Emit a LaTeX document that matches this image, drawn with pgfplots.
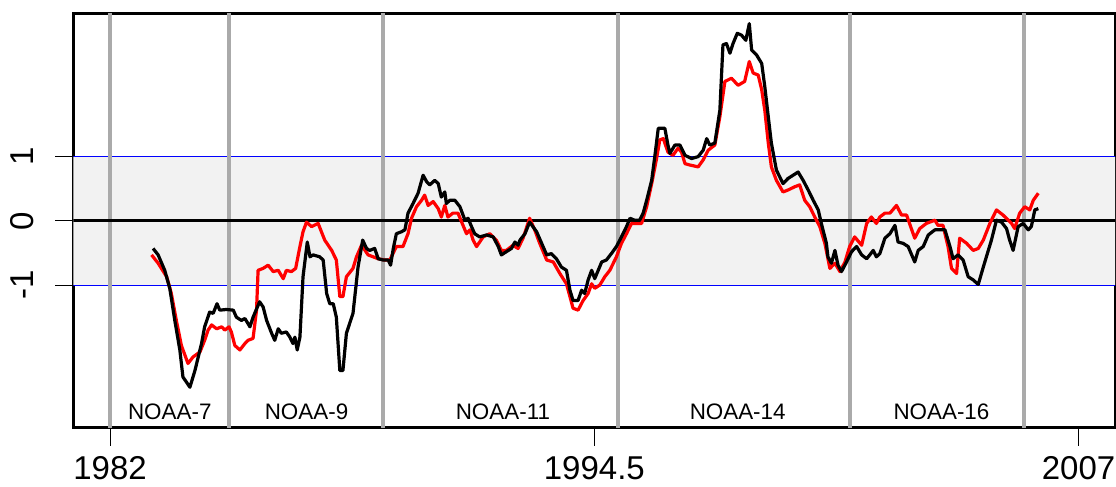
\documentclass[border=0pt]{standalone}
\usepackage{fontspec}
\setmainfont{Liberation Sans}
\usepackage{pgfplots}
\usepackage{pgfplotstable}
\pgfplotsset{compat=1.18}
\definecolor{bandgray}{RGB}{242,242,242}
\definecolor{satgray}{RGB}{170,170,170}

% anomaly series, red
\pgfplotstableread{
year val
1983.07 -0.53
1983.24 -0.66
1983.46 -0.87
1983.58 -1.13
1983.71 -1.55
1983.84 -1.94
1984.01 -2.22
1984.14 -2.12
1984.32 -2.04
1984.44 -1.86
1984.53 -1.70
1984.62 -1.62
1984.75 -1.68
1984.88 -1.65
1984.96 -1.70
1985.07 -1.65
1985.13 -1.73
1985.22 -1.94
1985.35 -2.01
1985.48 -1.91
1985.56 -1.86
1985.69 -1.83
1985.78 -1.39
1985.82 -0.77
1985.95 -0.74
1986.08 -0.69
1986.21 -0.79
1986.34 -0.77
1986.47 -0.90
1986.55 -0.77
1986.68 -0.79
1986.79 -0.74
1986.90 -0.40
1986.98 -0.17
1987.07 -0.02
1987.20 -0.09
1987.37 -0.04
1987.54 -0.30
1987.72 -0.46
1987.84 -0.61
1987.93 -1.18
1988.01 -1.18
1988.10 -0.87
1988.27 -0.74
1988.36 -0.56
1988.49 -0.38
1988.66 -0.53
1988.79 -0.56
1988.92 -0.59
1989.09 -0.61
1989.22 -0.61
1989.39 -0.40
1989.56 -0.40
1989.69 -0.20
1989.78 0.04
1989.91 0.22
1990.04 0.32
1990.12 0.40
1990.21 0.24
1990.34 0.30
1990.47 0.19
1990.55 0.06
1990.64 0.24
1990.72 0.06
1990.85 0.12
1990.98 0.12
1991.11 -0.07
1991.20 -0.20
1991.29 -0.14
1991.37 -0.30
1991.46 -0.40
1991.63 -0.25
1991.80 -0.20
1991.97 -0.30
1992.10 -0.46
1992.23 -0.46
1992.40 -0.38
1992.53 -0.43
1992.66 -0.27
1992.83 0.04
1992.96 -0.14
1993.09 -0.35
1993.27 -0.61
1993.44 -0.64
1993.61 -0.82
1993.78 -0.98
1993.87 -1.18
1993.95 -1.36
1994.08 -1.39
1994.21 -1.24
1994.34 -1.13
1994.43 -0.98
1994.51 -1.05
1994.64 -1.00
1994.77 -0.87
1994.90 -0.77
1995.07 -0.56
1995.20 -0.35
1995.33 -0.20
1995.46 -0.04
1995.59 -0.04
1995.72 -0.04
1995.85 0.22
1995.98 0.58
1996.10 0.95
1996.19 1.26
1996.28 1.28
1996.40 1.07
1996.53 1.02
1996.66 1.13
1996.75 1.07
1996.84 0.89
1996.96 0.87
1997.18 0.84
1997.31 0.95
1997.44 1.10
1997.61 1.18
1997.74 1.62
1997.87 2.17
1998.04 2.22
1998.21 2.11
1998.38 2.17
1998.50 2.48
1998.60 2.30
1998.73 2.27
1998.82 2.04
1998.90 1.72
1998.99 1.21
1999.07 0.84
1999.20 0.63
1999.37 0.45
1999.50 0.48
1999.67 0.53
1999.80 0.56
1999.93 0.32
2000.06 0.22
2000.19 0.06
2000.32 -0.09
2000.45 -0.35
2000.58 -0.74
2000.71 -0.66
2000.84 -0.79
2000.97 -0.64
2001.09 -0.40
2001.22 -0.25
2001.40 -0.38
2001.53 -0.04
2001.65 0.06
2001.78 -0.04
2001.87 0.06
2002.00 0.12
2002.13 0.12
2002.30 0.24
2002.43 0.09
2002.56 0.09
2002.77 -0.27
2002.90 -0.12
2003.07 -0.04
2003.29 0.01
2003.37 -0.07
2003.50 -0.07
2003.63 -0.40
2003.72 -0.74
2003.85 -0.82
2003.93 -0.27
2004.11 -0.35
2004.28 -0.46
2004.41 -0.43
2004.54 -0.30
2004.71 -0.04
2004.88 0.17
2005.05 0.09
2005.27 -0.04
2005.35 -0.12
2005.48 0.12
2005.61 0.22
2005.74 0.17
2005.83 0.32
2005.96 0.43
}\redseries

% anomaly series, black
\pgfplotstableread{
year val
1983.11 -0.43
1983.24 -0.53
1983.41 -0.77
1983.54 -1.05
1983.67 -1.55
1983.80 -2.01
1983.88 -2.43
1984.06 -2.59
1984.19 -2.33
1984.36 -1.91
1984.44 -1.65
1984.57 -1.42
1984.66 -1.44
1984.76 -1.29
1984.83 -1.39
1985.00 -1.38
1985.18 -1.39
1985.26 -1.50
1985.39 -1.55
1985.48 -1.52
1985.61 -1.65
1985.69 -1.50
1985.86 -1.26
1985.95 -1.34
1986.04 -1.55
1986.17 -1.75
1986.25 -1.86
1986.34 -1.68
1986.42 -1.75
1986.55 -1.73
1986.64 -1.81
1986.72 -1.91
1986.77 -1.81
1986.83 -2.01
1986.90 -1.81
1986.98 -0.87
1987.09 -0.33
1987.16 -0.56
1987.24 -0.53
1987.41 -0.56
1987.50 -0.61
1987.59 -1.13
1987.67 -1.29
1987.76 -1.29
1987.84 -1.50
1987.93 -2.33
1988.01 -2.33
1988.10 -1.75
1988.27 -1.44
1988.40 -0.72
1988.52 -0.30
1988.62 -0.43
1988.70 -0.46
1988.83 -0.43
1988.92 -0.59
1989.05 -0.61
1989.18 -0.61
1989.24 -0.69
1989.31 -0.43
1989.39 -0.20
1989.52 -0.17
1989.61 -0.14
1989.69 0.12
1989.82 0.27
1989.95 0.43
1990.08 0.71
1990.17 0.61
1990.25 0.56
1990.38 0.63
1990.47 0.58
1990.55 0.37
1990.64 0.45
1990.68 0.27
1990.77 0.32
1990.90 0.32
1991.03 0.22
1991.16 0.01
1991.24 0.04
1991.33 -0.09
1991.41 -0.20
1991.54 -0.25
1991.72 -0.22
1991.89 -0.25
1992.02 -0.40
1992.10 -0.53
1992.23 -0.48
1992.36 -0.43
1992.45 -0.33
1992.53 -0.38
1992.58 -0.30
1992.71 -0.20
1992.83 -0.02
1993.01 -0.17
1993.14 -0.35
1993.27 -0.53
1993.39 -0.51
1993.52 -0.59
1993.65 -0.72
1993.78 -0.77
1993.87 -1.08
1993.95 -1.24
1994.08 -1.24
1994.17 -1.08
1994.25 -1.13
1994.34 -0.92
1994.43 -0.77
1994.51 -0.90
1994.60 -0.77
1994.69 -0.64
1994.81 -0.61
1994.94 -0.51
1995.07 -0.40
1995.20 -0.25
1995.33 -0.09
1995.42 0.04
1995.54 0.01
1995.67 0.01
1995.76 0.12
1995.85 0.32
1995.98 0.63
1996.06 1.00
1996.15 1.44
1996.23 1.44
1996.32 1.44
1996.40 1.18
1996.45 1.05
1996.58 1.18
1996.71 1.18
1996.84 1.02
1997.01 0.97
1997.18 1.00
1997.31 1.10
1997.40 1.28
1997.48 1.18
1997.61 1.21
1997.74 1.72
1997.82 2.74
1997.91 2.76
1998.00 2.61
1998.08 2.76
1998.19 2.92
1998.30 2.89
1998.41 2.81
1998.50 3.07
1998.56 2.66
1998.69 2.58
1998.82 2.45
1998.90 2.09
1998.99 1.62
1999.07 1.21
1999.20 0.79
1999.37 0.58
1999.50 0.66
1999.63 0.71
1999.76 0.76
1999.89 0.63
2000.02 0.48
2000.15 0.32
2000.28 0.17
2000.36 -0.04
2000.49 -0.35
2000.53 -0.56
2000.62 -0.66
2000.71 -0.46
2000.79 -0.69
2000.88 -0.79
2001.01 -0.64
2001.14 -0.48
2001.27 -0.40
2001.40 -0.53
2001.53 -0.59
2001.61 -0.53
2001.70 -0.46
2001.78 -0.56
2001.87 -0.51
2002.00 -0.27
2002.13 -0.20
2002.26 -0.07
2002.34 -0.33
2002.47 -0.35
2002.60 -0.40
2002.77 -0.64
2002.86 -0.46
2002.99 -0.40
2003.12 -0.22
2003.29 -0.14
2003.42 -0.14
2003.55 -0.14
2003.68 -0.40
2003.76 -0.59
2003.89 -0.53
2004.02 -0.61
2004.15 -0.87
2004.28 -0.92
2004.41 -0.99
2004.54 -0.72
2004.62 -0.56
2004.75 -0.30
2004.88 0.01
2005.01 -0.02
2005.14 -0.12
2005.22 -0.30
2005.31 -0.46
2005.44 -0.09
2005.57 -0.04
2005.70 -0.14
2005.78 -0.09
2005.87 0.17
2005.96 0.19
}\blackseries

\begin{document}
\begin{tikzpicture}
\useasboundingbox (-36.65pt,-29.65pt) rectangle (521.35pt,213.85pt);
\begin{axis}[
  at={(0pt,0pt)}, anchor=south west,
  scale only axis, width=520.85pt, height=206.85pt,
  xmin=1981.05, xmax=2007.94, ymin=-3.22, ymax=3.22,
  axis line style={line width=1.5pt},
  xtick={1982,1994.5,2007}, xticklabels={1982,1994.5,2007},
  ytick={-1,0,1}, yticklabels={-1,0,1},
  xtick pos=bottom, ytick pos=left,
  tick align=outside, major tick length=9pt,
  tick style={black, line width=0.5pt},
  every tick label/.append style={font=\fontsize{16.5}{18}\selectfont, inner sep=0pt},
  xticklabel style={anchor=base, yshift=-17pt},
  yticklabel style={xshift=-11.1pt, rotate=90, anchor=base},
]
\addplot[fill=bandgray, draw=none] coordinates {(1980,-1) (1980,1) (2009,1) (2009,-1)} -- cycle;
\addplot[blue, line width=0.5pt] coordinates {(1980,1) (2009,1)};
\addplot[blue, line width=0.5pt] coordinates {(1980,-1) (2009,-1)};
\addplot[satgray, line width=2pt] coordinates {(1982.00,-4) (1982.00,4)};
\addplot[satgray, line width=2pt] coordinates {(1985.07,-4) (1985.07,4)};
\addplot[satgray, line width=2pt] coordinates {(1989.05,-4) (1989.05,4)};
\addplot[satgray, line width=2pt] coordinates {(1995.10,-4) (1995.10,4)};
\addplot[satgray, line width=2pt] coordinates {(2001.09,-4) (2001.09,4)};
\addplot[satgray, line width=2pt] coordinates {(2005.59,-4) (2005.59,4)};
\addplot[black, line width=1.5pt] coordinates {(1980,0) (2009,0)};
\addplot[red, line width=1.6pt, line join=round] table[x=year, y=val] {\redseries};
\addplot[black, line width=1.6pt, line join=round] table[x=year, y=val] {\blackseries};
\node[font=\fontsize{11.2}{13}\selectfont] at (axis cs:1983.54,-2.97) {NOAA-7};
\node[font=\fontsize{11.2}{13}\selectfont] at (axis cs:1987.07,-2.97) {NOAA-9};
\node[font=\fontsize{11.2}{13}\selectfont] at (axis cs:1992.14,-2.97) {NOAA-11};
\node[font=\fontsize{11.2}{13}\selectfont] at (axis cs:1998.20,-2.97) {NOAA-14};
\node[font=\fontsize{11.2}{13}\selectfont] at (axis cs:2003.46,-2.97) {NOAA-16};
\end{axis}
\end{tikzpicture}
\end{document}
